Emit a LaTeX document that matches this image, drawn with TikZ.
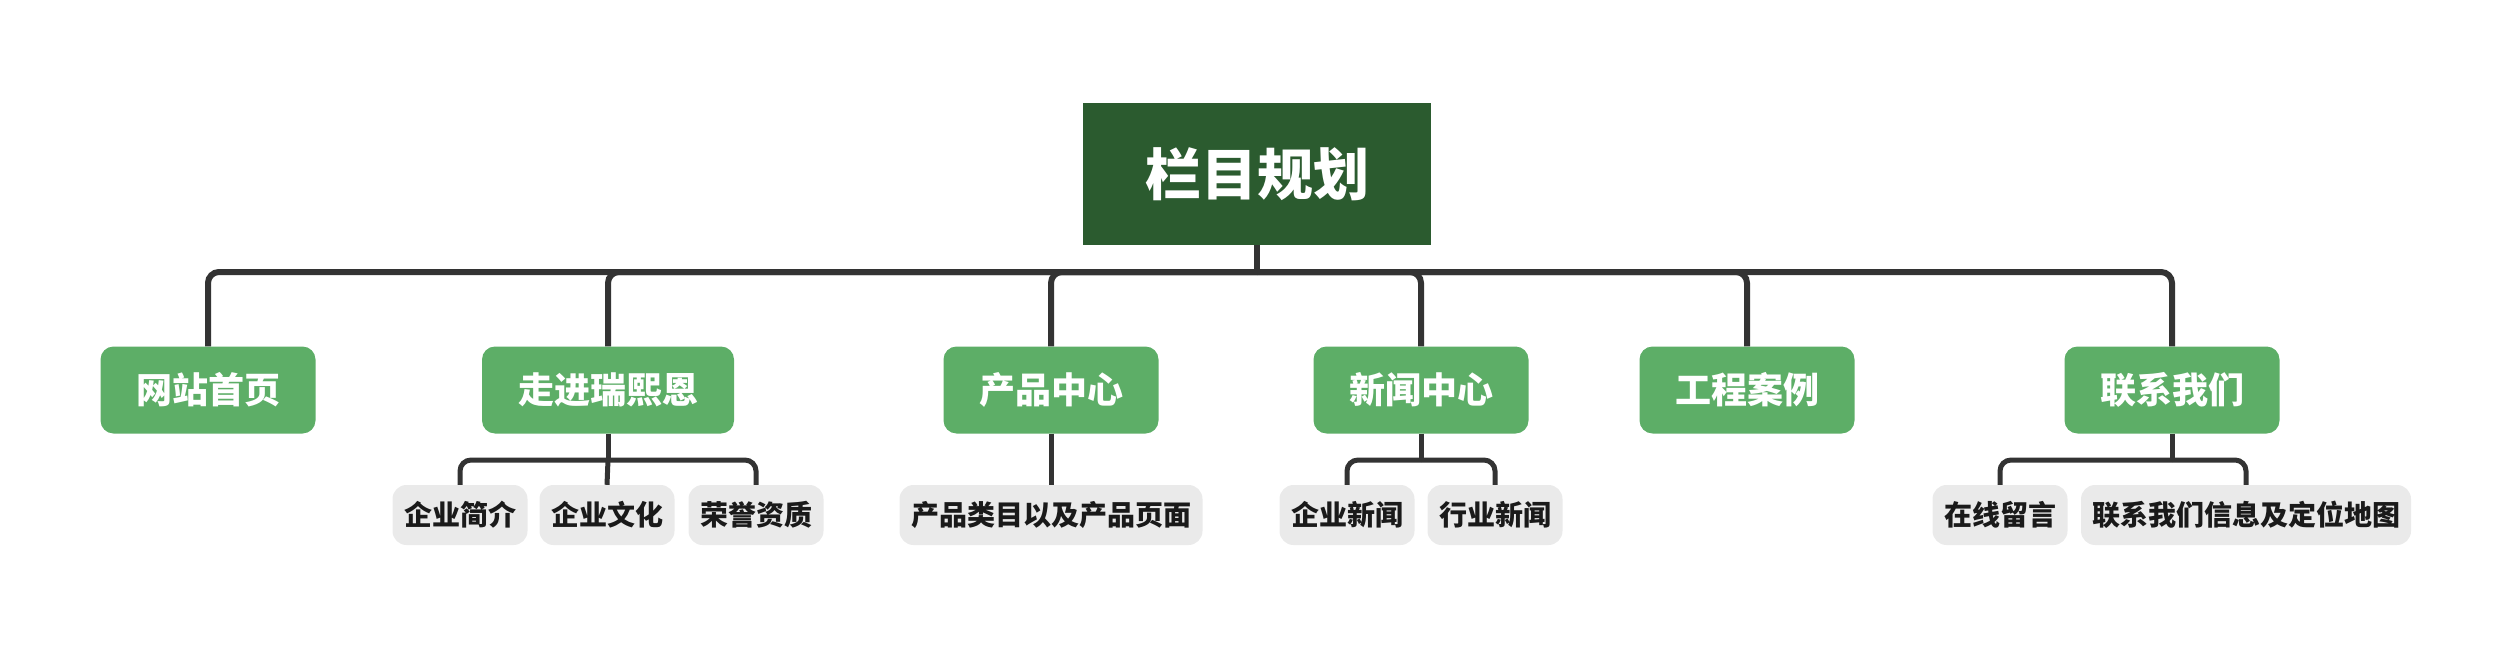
\documentclass[tikz,border=0pt]{standalone}
\usepackage{fontspec}
\setmainfont{Noto Sans CJK SC}
\definecolor{rootgreen}{HTML}{2B5B2F}
\definecolor{catgreen}{HTML}{5DAE67}
\definecolor{subgray}{HTML}{EAEAEA}
\definecolor{linegray}{HTML}{333333}
\definecolor{subtext}{HTML}{1A1A1A}
\tikzset{
  rootbox/.style={fill=rootgreen, text=white, minimum width=348bp, minimum height=142bp, inner sep=0pt, font=\bfseries\fontsize{56bp}{60bp}\selectfont},
  catbox/.style={fill=catgreen, text=white, rounded corners=13bp, minimum width=215bp, minimum height=87bp, inner sep=0pt, font=\bfseries\fontsize{36bp}{40bp}\selectfont},
  subbox/.style={fill=subgray, text=subtext, rounded corners=14bp, minimum width=135bp, minimum height=60bp, inner sep=0pt, font=\bfseries\fontsize{28bp}{32bp}\selectfont},
  conn/.style={draw=linegray, line width=6bp, rounded corners=11bp},
  subconn/.style={draw=linegray, line width=5bp, rounded corners=11bp},
}
\begin{document}
\begin{tikzpicture}[x=1bp, y=-1bp]
\useasboundingbox (0,0) rectangle (2512,646);
% root
\node[rootbox] (root) at (1257,174) {栏目规划};
% level 1
\node[catbox] (c1) at (208,390) {网站首页};
\node[catbox, minimum width=252bp] (c2) at (608,390) {走进瑞熙恩};
\node[catbox] (c3) at (1051,390) {产品中心};
\node[catbox] (c4) at (1421,390) {新闻中心};
\node[catbox] (c5) at (1747,390) {工程案例};
\node[catbox] (c6) at (2172,390) {联系我们};
% level 2
\node[subbox] (s21) at (460,515) {企业简介};
\node[subbox] (s22) at (607,515) {企业文化};
\node[subbox] (s23) at (756,515) {荣誉资质};
\node[subbox, minimum width=303bp] (s31) at (1051,515) {产品类目以及产品页面};
\node[subbox] (s41) at (1347,515) {企业新闻};
\node[subbox] (s42) at (1495,515) {行业新闻};
\node[subbox] (s61) at (2000,515) {在线留言};
\node[subbox, minimum width=330bp] (s62) at (2246,515) {联系我们信息及定位地图};
% bus coordinates
\coordinate (bus) at (1257,272);
\draw[conn] (root.south) -- (bus);
\foreach \c in {c1,c2,c3,c4,c5,c6}{
  \draw[conn] (bus) -- (\c.north |- bus) -- (\c.north);
}
% sub connectors
\coordinate (b2) at (608,460);
\draw[subconn] (c2.south) -- (b2);
\draw[subconn] (b2) -- (s21.north |- b2) -- (s21.north);
\draw[subconn] (b2) -- (s23.north |- b2) -- (s23.north);
\draw[subconn] (b2) -- (s22.north);
\draw[subconn] (c3.south) -- (s31.north);
\coordinate (b4) at (1421,460);
\draw[subconn] (c4.south) -- (b4);
\draw[subconn] (b4) -- (s41.north |- b4) -- (s41.north);
\draw[subconn] (b4) -- (s42.north |- b4) -- (s42.north);
\coordinate (b6) at (2172,460);
\draw[subconn] (c6.south) -- (b6);
\draw[subconn] (b6) -- (s61.north |- b6) -- (s61.north);
\draw[subconn] (b6) -- (s62.north |- b6) -- (s62.north);
\end{tikzpicture}
\end{document}
